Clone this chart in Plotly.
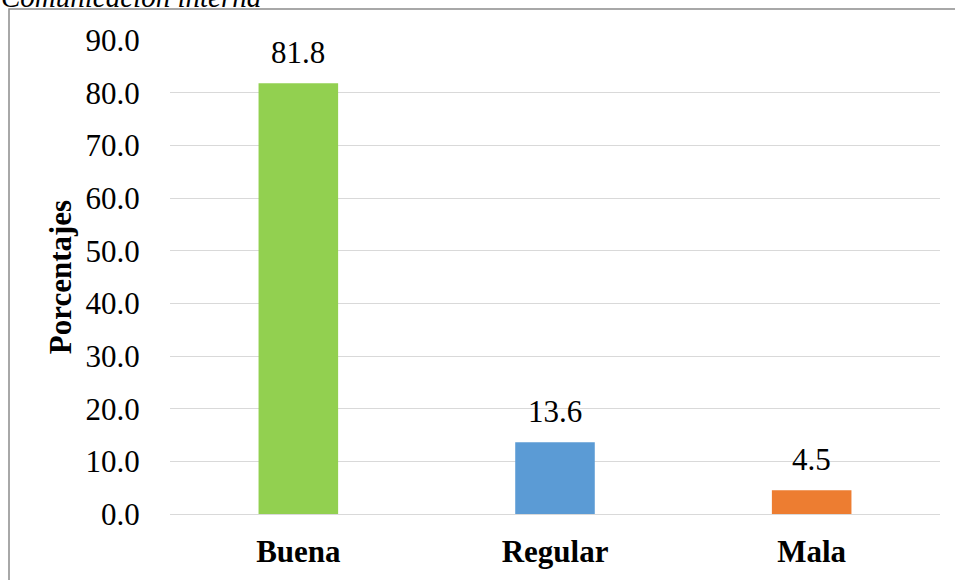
import plotly.graph_objects as go

categories = ["Buena", "Regular", "Mala"]
values = [81.8, 13.6, 4.5]
colors = ["#92D050", "#5B9BD5", "#ED7D31"]
y_ticks = [0, 10, 20, 30, 40, 50, 60, 70, 80, 90]

FONT = "Liberation Serif, Times New Roman, serif"
FS = 31

fig = go.Figure(go.Bar(
    x=categories, y=values,
    marker=dict(color=colors, line=dict(width=0)),
    width=0.31,
    cliponaxis=False,
))

for c, v in zip(categories, values):
    fig.add_annotation(
        x=c, y=v, text=f"{v:.1f}", showarrow=False,
        xanchor="center", yanchor="bottom", yshift=11,
        font=dict(family=FONT, size=FS, color="#000"),
    )

L, R, T, B = 170, 15, 40, 66
W, H = 955, 580
pw, ph = W - L - R, H - T - B

fig.update_layout(
    width=W, height=H,
    margin=dict(l=L, r=R, t=T, b=B),
    paper_bgcolor="white", plot_bgcolor="white",
    showlegend=False,
    font=dict(family=FONT, color="#000"),
)
fig.update_xaxes(
    tickfont=dict(family=FONT, size=FS, color="#000", weight="bold"),
    showline=False, showgrid=False,
    ticks="outside", ticklen=10, tickcolor="rgba(0,0,0,0)",
)
fig.update_yaxes(
    range=[0, 90], tickvals=y_ticks,
    ticktext=[f"{v:.1f}" for v in y_ticks],
    tickfont=dict(family=FONT, size=FS, color="#000"),
    showgrid=True, gridcolor="#D9D9D9", gridwidth=1.3,
    zeroline=True, zerolinecolor="#D9D9D9", zerolinewidth=1.3,
    ticks="outside", ticklen=23, tickcolor="rgba(0,0,0,0)",
    title=dict(text="<b>Porcentajes</b>", font=dict(family=FONT, size=FS, color="#000"), standoff=4),
)

# outer frame
fig.add_shape(
    type="rect", xref="paper", yref="paper",
    x0=(9 - L) / pw, x1=(W + 20 - L) / pw,
    y0=-(H + 20 - T - ph) / ph, y1=(T + ph - 9) / ph,
    line=dict(color="#8C8C8C", width=1.5), fillcolor="rgba(0,0,0,0)", layer="below",
)

fig.add_annotation(
    text="Comunicación interna", xref="paper", yref="paper",
    x=(-1 - L) / pw, y=(T + ph - 15) / ph, xanchor="left", yanchor="bottom",
    showarrow=False, font=dict(family=FONT, size=29, color="#000", style="italic"),
)

fig.write_html("out.html")
